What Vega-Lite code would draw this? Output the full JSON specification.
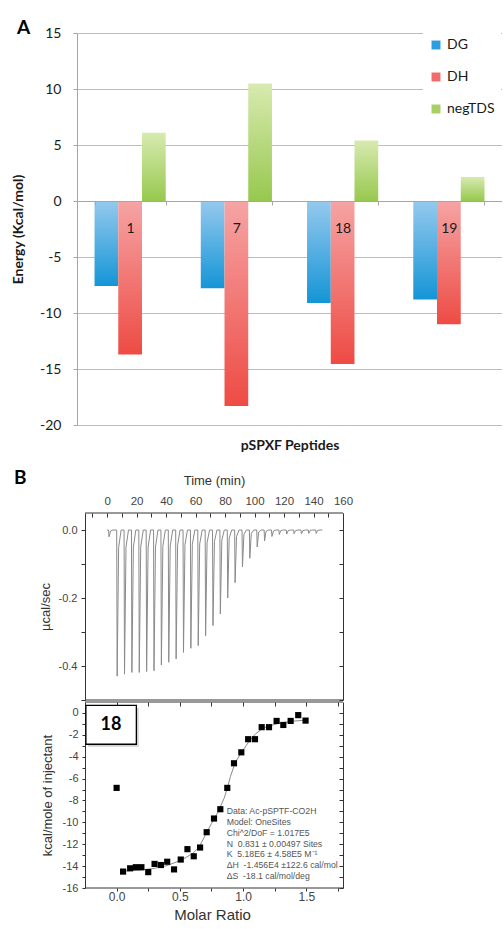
{
  "$schema": "https://vega.github.io/schema/vega-lite/v6.json",
  "background": "white",
  "autosize": {"type": "pad"},
  "padding": {"left": 11, "top": 19, "right": 0, "bottom": 4},
  "config": {"view": {"stroke": null}},
  "columns": 1,
  "align": "none",
  "spacing": 17,
  "concat": [
    {
      "width": 425,
      "height": 392,
      "title": {"text": "A", "anchor": "start", "frame": "group", "dx": -60, "dy": 14, "font": "Lato", "fontSize": 19, "fontWeight": "bold", "color": "#000000", "offset": 2},
      "data": {"values": [
        {"peptide": "1", "series": "DG", "energy": -7.6},
        {"peptide": "1", "series": "DH", "energy": -13.7},
        {"peptide": "1", "series": "negTDS", "energy": 6.1},
        {"peptide": "7", "series": "DG", "energy": -7.8},
        {"peptide": "7", "series": "DH", "energy": -18.3},
        {"peptide": "7", "series": "negTDS", "energy": 10.5},
        {"peptide": "18", "series": "DG", "energy": -9.1},
        {"peptide": "18", "series": "DH", "energy": -14.55},
        {"peptide": "18", "series": "negTDS", "energy": 5.4},
        {"peptide": "19", "series": "DG", "energy": -8.8},
        {"peptide": "19", "series": "DH", "energy": -11.0},
        {"peptide": "19", "series": "negTDS", "energy": 2.15}
      ]},
      "encoding": {
        "x": {
          "field": "peptide", "type": "nominal", "sort": ["1", "7", "18", "19"],
          "scale": {"paddingInner": 0.33, "paddingOuter": 0.165},
          "axis": {
            "orient": "bottom", "offset": -224, "title": "pSPXF Peptides", "zindex": 1,
            "domainColor": "#a6a6a6", "tickColor": "#a6a6a6", "tickSize": 4, "tickBand": "extent",
            "labelAngle": 0, "labelFont": "Lato", "labelFontSize": 14, "labelColor": "#1a1a1a", "labelPadding": 16,
            "titleFont": "Lato", "titleFontSize": 14, "titleFontWeight": "bold", "titleColor": "#1a1a1a", "titlePadding": 203
          }
        },
        "xOffset": {"field": "series", "sort": ["DG", "DH", "negTDS"], "scale": {"paddingInner": 0, "paddingOuter": 0}},
        "y": {
          "field": "energy", "type": "quantitative",
          "scale": {"domain": [-20, 15], "nice": false},
          "axis": {
            "values": [-20, -15, -10, -5, 0, 5, 10, 15], "title": "Energy (Kcal/mol)",
            "labelExpr": "replace(datum.label, '\u2212', '-')",
            "grid": true, "gridColor": "#bdbdbd", "domainColor": "#a6a6a6", "tickColor": "#a6a6a6", "tickSize": 4,
            "labelFont": "Lato", "labelFontSize": 14, "labelColor": "#1a1a1a", "labelPadding": 12,
            "titleFont": "Lato", "titleFontSize": 14, "titleFontWeight": "bold", "titleColor": "#1a1a1a", "titlePadding": 14
          }
        }
      },
      "layer": [
        {
          "mark": {"type": "bar"},
          "encoding": {
            "color": {
              "condition": [
                {"test": "datum.series === 'DG'", "value": {"gradient": "linear", "x1": 0, "y1": 0, "x2": 0, "y2": 1, "stops": [{"offset": 0, "color": "#95c9ee"}, {"offset": 1, "color": "#1495d6"}]}},
                {"test": "datum.series === 'DH'", "value": {"gradient": "linear", "x1": 0, "y1": 0, "x2": 0, "y2": 1, "stops": [{"offset": 0, "color": "#f5a4a4"}, {"offset": 1, "color": "#ee4b44"}]}}
              ],
              "value": {"gradient": "linear", "x1": 0, "y1": 0, "x2": 0, "y2": 1, "stops": [{"offset": 0, "color": "#d8eab0"}, {"offset": 1, "color": "#97c84e"}]}
            }
          }
        },
        {
          "mark": {"type": "bar", "opacity": 0},
          "encoding": {
            "color": {
              "field": "series", "type": "nominal",
              "scale": {"domain": ["DG", "DH", "negTDS"], "range": ["#2e9ddf", "#f06c6a", "#a7cf66"]},
              "legend": {
                "orient": "none", "legendX": 346, "legendY": -1, "title": null,
                "symbolType": "square", "symbolSize": 80, "symbolOpacity": 1, "symbolStrokeWidth": 0,
                "labelFont": "Lato", "labelFontSize": 14, "labelColor": "#1a1a1a", "labelOffset": 4,
                "rowPadding": 18, "padding": 6, "fillColor": "white"
              }
            }
          }
        }
      ]
    },
    {
      "spacing": 0,
      "vconcat": [
        {
          "width": 266,
          "height": 187,
          "title": {"text": "B", "anchor": "start", "frame": "group", "dx": -63, "dy": 18, "font": "Lato", "fontSize": 19, "fontWeight": "bold", "color": "#000000"},
          "data": {"values": [
            {"t": 0, "v": 0},
            {"t": 1.0, "v": 0}, {"t": 1.3, "v": -0.02}, {"t": 2.3, "v": -0.003}, {"t": 4.0, "v": 0},
            {"t": 6.5, "v": 0}, {"t": 6.8, "v": -0.43}, {"t": 7.8, "v": -0.052}, {"t": 9.5, "v": 0},
            {"t": 11.5, "v": 0}, {"t": 11.8, "v": -0.424}, {"t": 12.8, "v": -0.051}, {"t": 14.5, "v": 0},
            {"t": 16.5, "v": 0}, {"t": 16.8, "v": -0.419}, {"t": 17.8, "v": -0.05}, {"t": 19.5, "v": 0},
            {"t": 21.5, "v": 0}, {"t": 21.8, "v": -0.419}, {"t": 22.8, "v": -0.05}, {"t": 24.5, "v": 0},
            {"t": 26.5, "v": 0}, {"t": 26.8, "v": -0.416}, {"t": 27.8, "v": -0.05}, {"t": 29.5, "v": 0},
            {"t": 31.5, "v": 0}, {"t": 31.8, "v": -0.414}, {"t": 32.8, "v": -0.05}, {"t": 34.5, "v": 0},
            {"t": 36.5, "v": 0}, {"t": 36.8, "v": -0.397}, {"t": 37.8, "v": -0.048}, {"t": 39.5, "v": 0},
            {"t": 41.5, "v": 0}, {"t": 41.8, "v": -0.389}, {"t": 42.8, "v": -0.047}, {"t": 44.5, "v": 0},
            {"t": 46.5, "v": 0}, {"t": 46.8, "v": -0.379}, {"t": 47.8, "v": -0.045}, {"t": 49.5, "v": 0},
            {"t": 51.5, "v": 0}, {"t": 51.8, "v": -0.36}, {"t": 52.8, "v": -0.043}, {"t": 54.5, "v": 0},
            {"t": 56.5, "v": 0}, {"t": 56.8, "v": -0.348}, {"t": 57.8, "v": -0.042}, {"t": 59.5, "v": 0},
            {"t": 61.5, "v": 0}, {"t": 61.8, "v": -0.34}, {"t": 62.8, "v": -0.041}, {"t": 64.5, "v": 0},
            {"t": 66.5, "v": 0}, {"t": 66.8, "v": -0.311}, {"t": 67.8, "v": -0.037}, {"t": 69.5, "v": 0},
            {"t": 71.5, "v": 0}, {"t": 71.8, "v": -0.281}, {"t": 72.8, "v": -0.034}, {"t": 74.5, "v": 0},
            {"t": 76.5, "v": 0}, {"t": 76.8, "v": -0.247}, {"t": 77.8, "v": -0.03}, {"t": 79.5, "v": 0},
            {"t": 81.5, "v": 0}, {"t": 81.8, "v": -0.2}, {"t": 82.8, "v": -0.024}, {"t": 84.5, "v": 0},
            {"t": 86.5, "v": 0}, {"t": 86.8, "v": -0.155}, {"t": 87.8, "v": -0.019}, {"t": 89.5, "v": 0},
            {"t": 91.5, "v": 0}, {"t": 91.8, "v": -0.109}, {"t": 92.8, "v": -0.013}, {"t": 94.5, "v": 0},
            {"t": 96.5, "v": 0}, {"t": 96.8, "v": -0.083}, {"t": 97.8, "v": -0.01}, {"t": 99.5, "v": 0},
            {"t": 101.5, "v": 0}, {"t": 101.8, "v": -0.05}, {"t": 102.8, "v": -0.006}, {"t": 104.5, "v": 0},
            {"t": 106.5, "v": 0}, {"t": 106.8, "v": -0.032}, {"t": 107.8, "v": -0.004}, {"t": 109.5, "v": 0},
            {"t": 111.5, "v": 0}, {"t": 111.8, "v": -0.019}, {"t": 112.8, "v": -0.003}, {"t": 114.5, "v": 0},
            {"t": 116.5, "v": 0}, {"t": 116.8, "v": -0.013}, {"t": 117.8, "v": -0.002}, {"t": 119.5, "v": 0},
            {"t": 121.5, "v": 0}, {"t": 121.8, "v": -0.012}, {"t": 122.8, "v": -0.002}, {"t": 124.5, "v": 0},
            {"t": 126.5, "v": 0}, {"t": 126.8, "v": -0.011}, {"t": 127.8, "v": -0.002}, {"t": 129.5, "v": 0},
            {"t": 131.5, "v": 0}, {"t": 131.8, "v": -0.011}, {"t": 132.8, "v": -0.002}, {"t": 134.5, "v": 0},
            {"t": 136.5, "v": 0}, {"t": 136.8, "v": -0.01}, {"t": 137.8, "v": -0.001}, {"t": 139.5, "v": 0},
            {"t": 141.5, "v": 0}, {"t": 141.8, "v": -0.01}, {"t": 142.8, "v": -0.001}, {"t": 144.5, "v": 0},
            {"t": 146, "v": 0}
          ]},
          "layer": [
            {
              "mark": {"type": "line", "color": "#8a8a8a", "strokeWidth": 1},
              "encoding": {
                "x": {
                  "field": "t", "type": "quantitative",
                  "scale": {"domain": [-20.43, 160], "nice": false, "zero": false},
                  "axis": {
                    "orient": "top", "title": "Time (min)", "titleX": 137, "values": [-10, 0, 10, 20, 30, 40, 50, 60, 70, 80, 90, 100, 110, 120, 130, 140, 150, 160],
                    "labelExpr": "datum.value >= 0 && datum.value % 20 == 0 ? datum.label : ''", "labelFlush": false,
                    "grid": false, "domain": false, "tickColor": "#333333", "tickSize": -4,
                    "labelFont": "Liberation Sans", "labelFontSize": 11.5, "labelColor": "#444444", "labelPadding": 11,
                    "titleFont": "Liberation Sans", "titleFontSize": 13, "titleFontWeight": "normal", "titleColor": "#333333", "titlePadding": 8
                  }
                },
                "y": {
                  "field": "v", "type": "quantitative",
                  "scale": {"domain": [-0.5, 0.05], "nice": false, "zero": false},
                  "axis": {
                    "orient": "left", "offset": -8, "title": "\u00b5cal/sec", "values": [0, -0.1, -0.2, -0.3, -0.4, -0.5],
                    "labelExpr": "abs(round(datum.value * 10)) % 2 == 0 ? replace(format(datum.value, '.1f'), '\u2212', '-') : ''",
                    "grid": false, "domainColor": "#333333", "tickColor": "#333333", "tickSize": 4,
                    "labelFont": "Liberation Sans", "labelFontSize": 11, "labelColor": "#444444", "labelPadding": 4,
                    "titleFont": "Liberation Sans", "titleFontSize": 13, "titleFontWeight": "normal", "titleColor": "#333333", "titlePadding": 6
                  }
                }
              }
            },
            {
              "mark": {"type": "line", "opacity": 0},
              "encoding": {
                "x": {"field": "t", "type": "quantitative", "axis": null},
                "y": {
                  "field": "v", "type": "quantitative",
                  "axis": {"orient": "right", "title": null, "values": [0, -0.1, -0.2, -0.3, -0.4, -0.5], "labels": false, "grid": false, "domainColor": "#333333", "tickColor": "#333333", "tickSize": -4}
                }
              }
            },
            {
              "data": {"values": [{"edge": 0.05}, {"edge": -0.5}]},
              "mark": {"type": "rule", "color": "#333333", "strokeWidth": 1},
              "encoding": {
                "x": {"datum": -15, "type": "quantitative", "axis": null},
                "x2": {"datum": 160},
                "y": {"field": "edge", "type": "quantitative", "axis": null}
              }
            }
          ],
          "resolve": {"axis": {"x": "independent", "y": "independent"}}
        },
        {
          "width": 266,
          "height": 186,
          "layer": [
            {
              "data": {"values": [
                {"ratio": 0.03, "fit": -14.45}, {"ratio": 0.1, "fit": -14.42}, {"ratio": 0.2, "fit": -14.35},
                {"ratio": 0.3, "fit": -14.2}, {"ratio": 0.4, "fit": -13.95}, {"ratio": 0.5, "fit": -13.5},
                {"ratio": 0.55, "fit": -13.2}, {"ratio": 0.6, "fit": -12.85}, {"ratio": 0.65, "fit": -12.3},
                {"ratio": 0.7, "fit": -11.2}, {"ratio": 0.75, "fit": -10.1}, {"ratio": 0.8, "fit": -9.1},
                {"ratio": 0.85, "fit": -7.8}, {"ratio": 0.875, "fit": -6.9}, {"ratio": 0.9, "fit": -5.8},
                {"ratio": 0.93, "fit": -4.8}, {"ratio": 0.95, "fit": -4.3}, {"ratio": 1.0, "fit": -3.4},
                {"ratio": 1.05, "fit": -2.55}, {"ratio": 1.1, "fit": -1.9}, {"ratio": 1.15, "fit": -1.45},
                {"ratio": 1.2, "fit": -1.2}, {"ratio": 1.3, "fit": -0.9}, {"ratio": 1.4, "fit": -0.75}, {"ratio": 1.5, "fit": -0.65}
              ]},
              "mark": {"type": "line", "color": "#8a8a8a", "strokeWidth": 1},
              "encoding": {
                "x": {
                  "field": "ratio", "type": "quantitative",
                  "scale": {"domain": [-0.3133, 1.79], "nice": false, "zero": false},
                  "axis": {"orient": "top", "title": null, "values": [0, 0.25, 0.5, 0.75, 1, 1.25, 1.5, 1.75], "labels": false, "grid": false, "domain": false, "tickColor": "#333333", "tickSize": -4}
                },
                "y": {
                  "field": "fit", "type": "quantitative",
                  "scale": {"domain": [-16, 1], "nice": false, "zero": false},
                  "axis": {"orient": "right", "title": null, "values": [0, -1, -2, -3, -4, -5, -6, -7, -8, -9, -10, -11, -12, -13, -14, -15, -16], "labels": false, "grid": false, "domainColor": "#333333", "tickColor": "#333333", "tickSize": -4}
                }
              }
            },
            {
              "data": {"values": [
                {"ratio": 0.0, "heat": -6.85}, {"ratio": 0.051, "heat": -14.5}, {"ratio": 0.107, "heat": -14.2},
                {"ratio": 0.152, "heat": -14.1}, {"ratio": 0.196, "heat": -14.1}, {"ratio": 0.25, "heat": -14.55},
                {"ratio": 0.3, "heat": -13.8}, {"ratio": 0.35, "heat": -13.9}, {"ratio": 0.4, "heat": -13.6},
                {"ratio": 0.454, "heat": -14.3}, {"ratio": 0.507, "heat": -13.4}, {"ratio": 0.56, "heat": -12.45},
                {"ratio": 0.61, "heat": -13.1}, {"ratio": 0.66, "heat": -12.3}, {"ratio": 0.712, "heat": -10.9},
                {"ratio": 0.77, "heat": -9.65}, {"ratio": 0.82, "heat": -8.8}, {"ratio": 0.875, "heat": -6.85},
                {"ratio": 0.928, "heat": -4.6}, {"ratio": 0.986, "heat": -3.6}, {"ratio": 1.04, "heat": -2.4},
                {"ratio": 1.094, "heat": -2.4}, {"ratio": 1.147, "heat": -1.3}, {"ratio": 1.205, "heat": -1.3},
                {"ratio": 1.265, "heat": -0.73}, {"ratio": 1.318, "heat": -1.1}, {"ratio": 1.376, "heat": -0.73},
                {"ratio": 1.436, "heat": -0.2}, {"ratio": 1.494, "heat": -0.7}
              ]},
              "mark": {"type": "square", "size": 38, "color": "#000000", "opacity": 1, "filled": true},
              "encoding": {
                "x": {
                  "field": "ratio", "type": "quantitative",
                  "axis": {
                    "orient": "bottom", "title": "Molar Ratio", "titleX": 135, "values": [0, 0.25, 0.5, 0.75, 1, 1.25, 1.5, 1.75],
                    "labelExpr": "datum.value % 0.5 == 0 ? format(datum.value, '.1f') : ''", "labelFlush": false,
                    "grid": false, "domain": false, "tickColor": "#333333", "tickSize": 3,
                    "labelFont": "Liberation Sans", "labelFontSize": 12, "labelColor": "#444444", "labelPadding": 0,
                    "titleFont": "Liberation Sans", "titleFontSize": 15, "titleFontWeight": "normal", "titleColor": "#333333", "titlePadding": 5
                  }
                },
                "y": {
                  "field": "heat", "type": "quantitative",
                  "axis": {
                    "orient": "left", "offset": -8, "title": "kcal/mole of injectant", "values": [0, -1, -2, -3, -4, -5, -6, -7, -8, -9, -10, -11, -12, -13, -14, -15, -16],
                    "labelExpr": "abs(datum.value) % 2 == 0 ? replace(datum.label, '\u2212', '-') : ''",
                    "grid": false, "domainColor": "#333333", "tickColor": "#333333", "tickSize": 3,
                    "labelFont": "Liberation Sans", "labelFontSize": 11, "labelColor": "#444444", "labelPadding": 4,
                    "titleFont": "Liberation Sans", "titleFontSize": 13, "titleFontWeight": "normal", "titleColor": "#333333", "titlePadding": 8
                  }
                }
              }
            },
            {
              "data": {"values": [{"edge": 1}, {"edge": -16}]},
              "mark": {"type": "rule", "color": "#333333", "strokeWidth": 1},
              "encoding": {
                "x": {"datum": -0.25, "type": "quantitative", "axis": null},
                "x2": {"datum": 1.79},
                "y": {"field": "edge", "type": "quantitative", "axis": null}
              }
            },
            {
              "data": {"values": [{}]},
              "mark": {"type": "rect", "color": "#9a9a9a", "opacity": 0.45},
              "encoding": {
                "x": {"datum": -0.225, "type": "quantitative", "axis": null},
                "x2": {"datum": 0.175},
                "y": {"datum": 0.45, "type": "quantitative", "axis": null},
                "y2": {"datum": -3.1}
              }
            },
            {
              "data": {"values": [{}]},
              "mark": {"type": "rect", "fill": "#ffffff", "stroke": "#000000", "strokeWidth": 1.3},
              "encoding": {
                "x": {"datum": -0.243, "type": "quantitative", "axis": null},
                "x2": {"datum": 0.156},
                "y": {"datum": 0.7, "type": "quantitative", "axis": null},
                "y2": {"datum": -2.86}
              }
            },
            {
              "data": {"values": [{}]},
              "mark": {"type": "text", "font": "Lato", "fontSize": 18, "fontWeight": "bold", "color": "#000000", "align": "center", "baseline": "middle"},
              "encoding": {
                "x": {"datum": -0.044, "type": "quantitative", "axis": null},
                "y": {"datum": -1.1, "type": "quantitative", "axis": null},
                "text": {"value": "18"}
              }
            },
            {
              "data": {"values": [{}]},
              "mark": {"type": "text", "font": "Liberation Sans", "fontSize": 8.7, "color": "#555555", "align": "left", "baseline": "middle", "lineHeight": 10.8},
              "encoding": {
                "x": {"datum": 0.87, "type": "quantitative", "axis": null},
                "y": {"datum": -8.98, "type": "quantitative", "axis": null},
                "text": {"value": ["Data: Ac-pSPTF-CO2H", "Model: OneSites", "Chi^2/DoF = 1.017E5", "N\u00a0\u00a00.831 \u00b1 0.00497 Sites", "K\u00a0\u00a05.18E6 \u00b1 4.58E5 M\u207b\u00b9", "\u0394H\u00a0\u00a0-1.456E4 \u00b1122.6 cal/mol", "\u0394S\u00a0\u00a0-18.1 cal/mol/deg"]}
              }
            }
          ],
          "resolve": {"axis": {"x": "independent", "y": "independent"}}
        }
      ]
    }
  ]
}
